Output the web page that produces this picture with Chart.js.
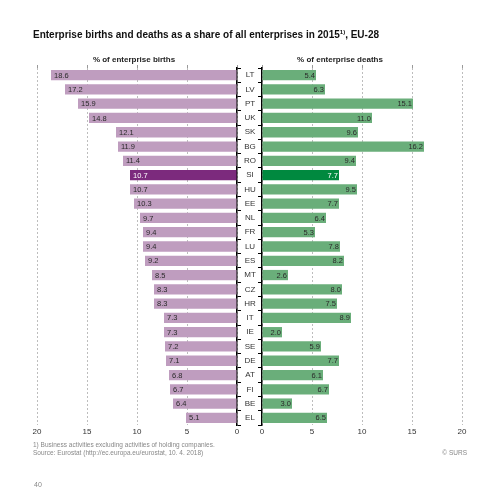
<!DOCTYPE html>
<html>
<head>
<meta charset="utf-8">
<script src="https://cdn.jsdelivr.net/npm/chart.js@4"></script>
<style>
  body { margin: 0; background: #fff; font-family: "Liberation Sans", Arial, sans-serif; }
  #wrap { position: relative; width: 500px; height: 500px; }
  canvas { position: absolute; left: 0; top: 0; }
  .txt { position: absolute; white-space: nowrap; }
  .title { left: 33px; top: 29px; font-size: 10px; font-weight: bold; color: #111; }
  .title sup { font-size: 6px; }
  .sub { top: 55px; font-size: 8px; font-weight: bold; color: #222; transform: translateX(-50%); }
  .note { left: 33px; font-size: 6.5px; color: #888; }
</style>
</head>
<body>
<div id="wrap">
  <canvas id="births" width="500" height="500"></canvas>
  <canvas id="deaths" width="500" height="500"></canvas>
  <div class="txt title">Enterprise births and deaths as a share of all enterprises in 2015<sup>1)</sup>, EU-28</div>
  <div class="txt sub" style="left:134px">% of enterprise births</div>
  <div class="txt sub" style="left:340px">% of enterprise deaths</div>
  <div class="txt note" style="top:441px">1) Business activities excluding activities of holding companies.</div>
  <div class="txt note" style="top:449px">Source: Eurostat (http://ec.europa.eu/eurostat, 10. 4. 2018)</div>
  <div class="txt note" style="top:449px; left:auto; right:33px">© SURS</div>
  <div class="txt note" style="top:481px; left:34px; font-size:7px">40</div>
</div>
<script>
const categories = ['LT', 'LV', 'PT', 'UK', 'SK', 'BG', 'RO', 'SI', 'HU', 'EE', 'NL', 'FR', 'LU',
  'ES', 'MT', 'CZ', 'HR', 'IT', 'IE', 'SE', 'DE', 'AT', 'FI', 'BE', 'EL'];
const births = [18.6, 17.2, 15.9, 14.8, 12.1, 11.9, 11.4, 10.7, 10.7, 10.3, 9.7, 9.4, 9.4,
  9.2, 8.5, 8.3, 8.3, 7.3, 7.3, 7.2, 7.1, 6.8, 6.7, 6.4, 5.1];
const deaths = [5.4, 6.3, 15.1, 11.0, 9.6, 16.2, 9.4, 7.7, 9.5, 7.7, 6.4, 5.3, 7.8,
  8.2, 2.6, 8.0, 7.5, 8.9, 2.0, 5.9, 7.7, 6.1, 6.7, 3.0, 6.5];
const highlight = 'SI';
const axisMax = 20;
const axisStep = 5;

const FONT = '"Liberation Sans", Arial, sans-serif';

// labels inside the bar ends
const valueLabels = {
  id: 'valueLabels',
  afterDatasetsDraw(chart, args, opts) {
    const ctx = chart.ctx;
    const meta = chart.getDatasetMeta(0);
    const data = chart.data.datasets[0].data;
    ctx.save();
    ctx.font = '7.5px ' + FONT;
    ctx.textBaseline = 'middle';
    ctx.textAlign = opts.side;
    meta.data.forEach((bar, i) => {
      ctx.fillStyle = chart.data.labels[i] === highlight ? '#fff' : '#2a2a2a';
      const x = opts.side === 'left' ? bar.x + 3 : bar.x - 1;
      ctx.fillText(data[i].toFixed(1), x, bar.y + 0.5);
    });
    ctx.restore();
  }
};

function makeChart(id, values, light, dark, left) {
  const colors = categories.map(c => c === highlight ? dark : light);
  const xAxis = {
    min: 0, max: axisMax, reverse: left,
    ticks: { stepSize: axisStep, color: '#333', font: { size: 8, family: FONT }, padding: 2 },
    grid: { color: '#bdbdbd', lineWidth: 1, tickLength: 0 },
    border: { display: false, dash: [2, 2] },
    afterFit: s => { s.height = 14; }
  };
  const topAxis = {
    position: 'top', min: 0, max: axisMax, reverse: left,
    ticks: { display: false, stepSize: axisStep },
    grid: { drawOnChartArea: false, color: '#999', tickLength: 3 },
    border: { display: false },
    afterFit: s => { s.height = 3; }
  };
  const yAxis = left ? {
    position: 'right',
    ticks: { display: false },
    grid: { drawOnChartArea: false, color: '#000', tickLength: 4, offset: true },
    border: { color: '#000', width: 1.5 },
    afterFit: s => { s.width = 4; }
  } : {
    position: 'left',
    ticks: { color: '#333', font: { size: 8, family: FONT }, padding: 2, crossAlign: 'center' },
    grid: { drawOnChartArea: false, color: '#000', tickLength: 4, offset: true },
    border: { color: '#000', width: 1.5 },
    afterFit: s => { s.width = 25; }
  };
  return new Chart(document.getElementById(id), {
    type: 'bar',
    data: {
      labels: categories,
      datasets: [{
        data: values,
        backgroundColor: colors,
        categoryPercentage: 1,
        barPercentage: 0.72
      }]
    },
    options: {
      indexAxis: 'y',
      responsive: false,
      animation: false,
      layout: {
        padding: left
          ? { left: 37, right: 259, top: 65, bottom: 61 }
          : { left: 237, right: 38, top: 65, bottom: 61 }
      },
      scales: {
        x: xAxis,
        x2: topAxis,
        y: yAxis
      },
      plugins: {
        legend: { display: false },
        tooltip: { enabled: false },
        valueLabels: { side: left ? 'left' : 'right' }
      }
    },
    plugins: [valueLabels]
  });
}

makeChart('births', births, '#bf9dbf', '#7c2a7d', true);
makeChart('deaths', deaths, '#6aae7a', '#00893f', false);
</script>
</body>
</html>
